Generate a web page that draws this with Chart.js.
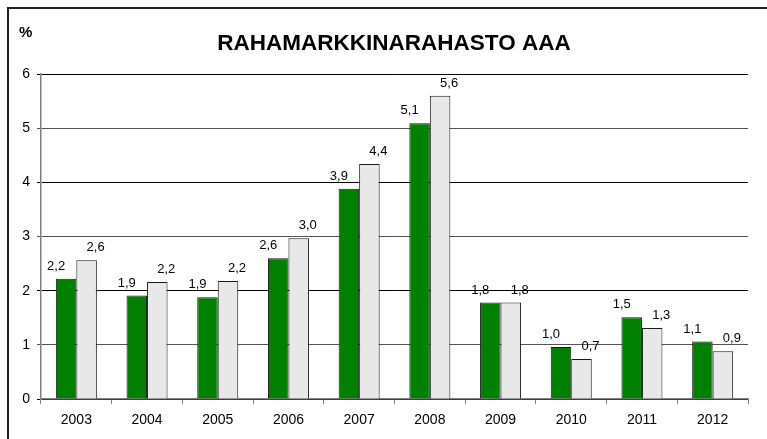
<!DOCTYPE html>
<html>
<head>
<meta charset="utf-8">
<style>
  html, body { margin: 0; padding: 0; background: #fff; }
  #wrap { width: 767px; height: 439px; position: relative; }
</style>
<script src="https://cdn.jsdelivr.net/npm/chart.js@4/dist/chart.umd.min.js"></script>
</head>
<body>
<div id="wrap"><canvas id="chart" width="767" height="439"></canvas></div>
<script>
// Chart data
const years      = ['2003', '2004', '2005', '2006', '2007', '2008', '2009', '2010', '2011', '2012'];
const fundValues = [2.22, 1.91, 1.88, 2.60, 3.88, 5.09, 1.78, 0.96, 1.51, 1.06];
const refValues  = [2.56, 2.16, 2.18, 2.97, 4.34, 5.60, 1.78, 0.74, 1.31, 0.88];
const fundLabels = ['2,2', '1,9', '1,9', '2,6', '3,9', '5,1', '1,8', '1,0', '1,5', '1,1'];
const refLabels  = ['2,6', '2,2', '2,2', '3,0', '4,4', '5,6', '1,8', '0,7', '1,3', '0,9'];
const yTicks     = [0, 1, 2, 3, 4, 5, 6];

const FONT = '"Liberation Sans", Arial, sans-serif';

// Frame, title and the "%" unit label
const framePlugin = {
  id: 'frame',
  beforeDraw(chart) {
    const ctx = chart.ctx;
    ctx.save();
    ctx.fillStyle = '#fff';
    ctx.fillRect(0, 0, chart.width, chart.height);
    ctx.strokeStyle = '#222';
    ctx.lineWidth = 2;
    ctx.beginPath();
    ctx.moveTo(8, chart.height);
    ctx.lineTo(8, 8);
    ctx.lineTo(chart.width, 8);
    ctx.stroke();
    ctx.restore();
  },
  afterDraw(chart) {
    const ctx = chart.ctx;
    ctx.save();
    ctx.fillStyle = '#000';
    ctx.textBaseline = 'middle';
    ctx.font = 'bold 22.5px ' + FONT;
    ctx.textAlign = 'center';
    ctx.fillText('RAHAMARKKINARAHASTO AAA', 394, 44);
    ctx.font = 'bold 15px ' + FONT;
    ctx.textAlign = 'left';
    ctx.fillText('%', 19, 33);
    ctx.restore();
  }
};

// Value labels above the bars, nudged left / right like the original
const valueLabels = {
  id: 'valueLabels',
  afterDatasetsDraw(chart) {
    const ctx = chart.ctx;
    ctx.save();
    ctx.font = '13px ' + FONT;
    ctx.fillStyle = '#000';
    ctx.textAlign = 'center';
    ctx.textBaseline = 'alphabetic';
    chart.data.datasets.forEach((ds, di) => {
      const meta = chart.getDatasetMeta(di);
      const texts = di === 0 ? fundLabels : refLabels;
      const dx = di === 0 ? -10 : 9;
      meta.data.forEach((bar, i) => {
        ctx.fillText(texts[i], bar.x + dx, bar.y - 9);
      });
    });
    ctx.restore();
  }
};

new Chart(document.getElementById('chart'), {
  type: 'bar',
  data: {
    labels: years,
    datasets: [
      { data: fundValues, backgroundColor: '#008000', borderColor: '#1a1a1a', borderWidth: 1 },
      { data: refValues,  backgroundColor: '#e8e8e8', borderColor: '#1a1a1a', borderWidth: 1 },
    ],
  },
  options: {
    responsive: false,
    animation: false,
    layout: { padding: { top: 74, right: 19, left: 0, bottom: 0 } },
    datasets: { bar: { categoryPercentage: 0.58, barPercentage: 1.0 } },
    plugins: { legend: { display: false }, tooltip: { enabled: false }, title: { display: false } },
    scales: {
      x: {
        offset: true,
        grid: { offset: true, drawOnChartArea: false, drawTicks: true, tickLength: 5, color: '#808080' },
        border: { color: '#808080', width: 1.5 },
        ticks: { color: '#000', font: { family: FONT, size: 14 }, padding: 8 },
        afterFit(scale) { scale.height = 40; },
      },
      y: {
        min: 0,
        max: 6,
        afterBuildTicks(scale) { scale.ticks = yTicks.map(v => ({ value: v })); },
        grid: {
          color: ctx => (ctx.tick && ctx.tick.value % 2 === 0 ? '#000' : '#555'),
          lineWidth: 1,
          tickLength: 4,
        },
        border: { color: '#808080', width: 1.5 },
        ticks: { color: '#000', font: { family: FONT, size: 14 }, padding: 7 },
        afterFit(scale) { scale.width = 41; },
      },
    },
  },
  plugins: [framePlugin, valueLabels],
});
</script>
</body>
</html>
